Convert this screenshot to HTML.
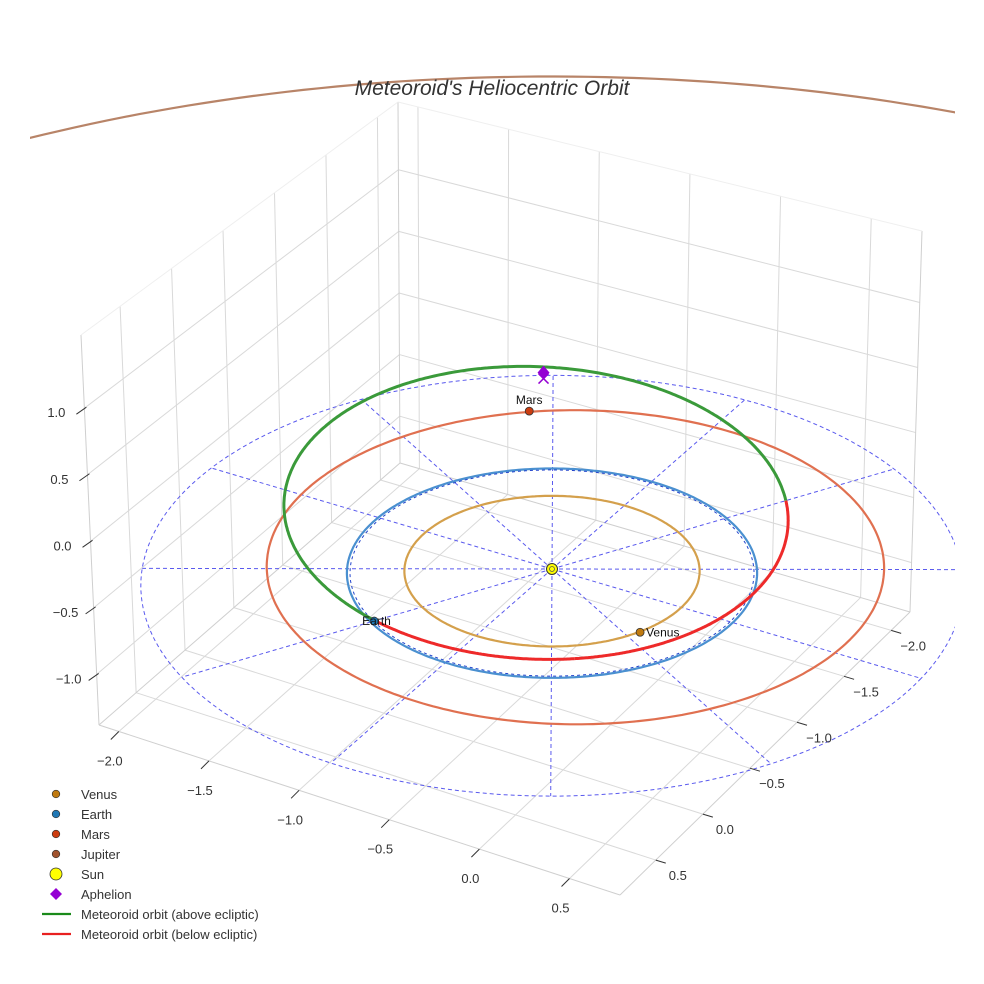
<!DOCTYPE html>
<html><head><meta charset="utf-8">
<style>
html,body{margin:0;padding:0;background:#fff;width:984px;height:984px;overflow:hidden;}
svg{display:block;font-family:"Liberation Sans",sans-serif;}
</style></head>
<body>
<svg id="chart" width="984" height="984" viewBox="0 0 984 984" xmlns="http://www.w3.org/2000/svg">
<defs><clipPath id="sceneclip"><rect x="30" y="0" width="925" height="984"/></clipPath></defs>
<rect x="0" y="0" width="984" height="984" fill="#fff"/>
<g id="box"></g>
<g id="data" clip-path="url(#sceneclip)"></g>
<g id="ticks"></g>
<text x="492" y="95" text-anchor="middle" font-size="21" font-style="italic" fill="#333">Meteoroid's Heliocentric Orbit</text>
<g id="legend"></g>
</svg>
<script>
// ---- data ----
const xTicks = [-2.0, -1.5, -1.0, -0.5, 0.0, 0.5];
const yTicks = [-2.0, -1.5, -1.0, -0.5, 0.0, 0.5];
const zTicks = [-1.0, -0.5, 0.0, 0.5, 1.0];
const xTickLabels = ["\u22122.0","\u22121.5","\u22121.0","\u22120.5","0.0","0.5"];
const yTickLabels = ["\u22122.0","\u22121.5","\u22121.0","\u22120.5","0.0","0.5"];
const zTickLabels = ["\u22121.0","\u22120.5","0.0","0.5","1.0"];
const axisRangeX = [-2.11, 0.78];
const axisRangeY = [-2.2, 0.88];
const axisRangeZ = [-1.38, 1.55];
const planetNames = ["Venus","Earth","Mars","Jupiter"];
const orbitRadii = [0.72, 1.0, 1.51, 5.8];
const orbitCenterX = [0, 0, 0.045, 0];
const orbitCenterY = [0, 0, -0.15, 0];
const planetX = [0.66, -0.49, -0.91];
const planetY = [0.30, 0.85, -1.33];
const referenceRadius = [2.0];
const spokeAnglesDeg = [0,30,60,90,120,150,180,210,240,270,300,330];
// meteoroid orbital elements
const meteoroidA = [1.39];
const meteoroidE = [0.43];
const meteoroidIncDeg = [3];
const meteoroidNodeDeg = [120];
const meteoroidPeriDeg = [52];   // longitude of perihelion
const aphelionPoint = [-1.04, -1.70, 0.03];

const NS = "http://www.w3.org/2000/svg";
function mk(tag, attrs, parent){const e=document.createElementNS(NS,tag);for(const k in attrs)e.setAttribute(k,attrs[k]);parent.appendChild(e);return e;}

// ---- projection for data ----
const CX=552, CY=569, S=206, EL=0.51, SZ=125, K=0.04;
function proj(X,Y,Z){
  const a=0.86*X-0.5*Y, w=0.5*X+0.86*Y;
  const f=1/(1-K*w);
  return [CX+f*S*a, CY+f*(S*EL*w - SZ*Z)];
}
function pathFrom(pts){return pts.map((p,i)=>(i?'L':'M')+p[0].toFixed(1)+' '+p[1].toFixed(1)).join(' ');}

// ---- box ----
const box=document.getElementById('box');
const Lc=[99,725],Fc=[620,895],Rc=[910,612],Bc=[400,463];
const LT=[81,335],BT=[398,102],RT=[922,231];
function lerp(p,q,t){return [p[0]+(q[0]-p[0])*t,p[1]+(q[1]-p[1])*t];}
function floorPt(x,y){
  const u=(x-axisRangeX[0])/(axisRangeX[1]-axisRangeX[0]);
  const v=(axisRangeY[1]-y)/(axisRangeY[1]-axisRangeY[0]);
  return lerp(lerp(Lc,Fc,u),lerp(Bc,Rc,u),v);
}
function zt(z){return (z-axisRangeZ[0])/(axisRangeZ[1]-axisRangeZ[0]);}
function line(p,q,stroke,w,parent,name){
  const e=mk('line',{x1:p[0],y1:p[1],x2:q[0],y2:q[1],stroke:stroke,'stroke-width':w},parent);
  
  
  return e;
}
const GC="#d9d9d9";
xTicks.forEach(x=>{line(floorPt(x,axisRangeY[1]),floorPt(x,axisRangeY[0]),GC,1,box,'floor-grid-x');});
yTicks.forEach(y=>{line(floorPt(axisRangeX[0],y),floorPt(axisRangeX[1],y),GC,1,box,'floor-grid-y');});
yTicks.forEach(y=>{const v=(axisRangeY[1]-y)/(axisRangeY[1]-axisRangeY[0]);line(lerp(Lc,Bc,v),lerp(LT,BT,v),GC,1,box,'left-wall-grid-y');});
zTicks.forEach(z=>{const t=zt(z);line(lerp(Lc,LT,t),lerp(Bc,BT,t),GC,1,box,'left-wall-grid-z');});
xTicks.forEach(x=>{const u=(x-axisRangeX[0])/(axisRangeX[1]-axisRangeX[0]);line(lerp(Bc,Rc,u),lerp(BT,RT,u),GC,1,box,'right-wall-grid-x');});
zTicks.forEach(z=>{const t=zt(z);line(lerp(Bc,BT,t),lerp(Rc,RT,t),GC,1,box,'right-wall-grid-z');});
const EC="#cfcfcf";
[[Lc,Fc],[Fc,Rc],[Lc,Bc],[Bc,Rc],[Lc,LT],[Bc,BT],[Rc,RT]].forEach(p=>line(p[0],p[1],EC,1,box,'box-edge'));
[[LT,BT],[BT,RT]].forEach(p=>line(p[0],p[1],"#efefef",1,box,'box-top-edge'));

// ---- ticks ----
const tk=document.getElementById('ticks');
function label(x,y,txt,name,anchor){
  const t=mk('text',{x:x,y:y,'font-size':13,fill:'#333','text-anchor':anchor||'middle'},tk);
  t.textContent=txt;
  
  
}
xTicks.forEach((x,i)=>{const p=floorPt(x,axisRangeY[1]);line(p,[p[0]-8,p[1]+8],'#333',1,tk,'x-tick');label(p[0]-9,p[1]+34,xTickLabels[i],'x-tick-label');});
yTicks.forEach((y,i)=>{const p=floorPt(axisRangeX[1],y);line(p,[p[0]+10,p[1]+3],'#333',1,tk,'y-tick');label(p[0]+22,p[1]+20,yTickLabels[i],'y-tick-label');});
zTicks.forEach((z,i)=>{const p=lerp(Lc,LT,zt(z));line([p[0]-8,p[1]+6],[p[0]+2,p[1]-1],'#333',1,tk,'z-tick');label(p[0]-28,p[1]+9,zTickLabels[i],'z-tick-label');});

// ---- data ----
const dg=document.getElementById('data');
function circlePts(r,cx,cy){const pts=[];for(let k=0;k<=360;k++){const a=k*Math.PI/180;pts.push(proj((cx||0)+r*Math.cos(a),(cy||0)+r*Math.sin(a),0));}return pts;}
function addPath(d,attrs,name){
  const e=mk('path',Object.assign({d:d,fill:'none'},attrs),dg);
  
  
  return e;
}
addPath(pathFrom(circlePts(referenceRadius[0])),{stroke:'#5a5aee','stroke-width':1,'stroke-dasharray':'4 3'},'reference-circle');
spokeAnglesDeg.forEach(a=>{const r=a*Math.PI/180;const R=referenceRadius[0];addPath(pathFrom([proj(0,0,0),proj(R*Math.cos(r),R*Math.sin(r),0)]),{stroke:'#5a5aee','stroke-width':1,'stroke-dasharray':'4 3'},'reference-spoke');});
const orbitColors=['#d4a04c','#4a90d0','#e07050','#b88468'];
const orbitNames=['venus-orbit','earth-orbit','mars-orbit','jupiter-orbit'];
orbitRadii.forEach((r,i)=>{addPath(pathFrom(circlePts(r,orbitCenterX[i],orbitCenterY[i])),{stroke:orbitColors[i],'stroke-width':2.2},orbitNames[i]);});
addPath(pathFrom(circlePts(0.985)),{stroke:'#2244cc','stroke-width':1,'stroke-dasharray':'3 3'},'earth-orbit-reference');
(function(){
  const a=meteoroidA[0],e=meteoroidE[0],inc=meteoroidIncDeg[0]*Math.PI/180,node=meteoroidNodeDeg[0]*Math.PI/180,peri=meteoroidPeriDeg[0]*Math.PI/180;
  const p=a*(1-e*e);
  let seg=[],segs=[],cur=null;
  for(let k=0;k<=720;k++){
    const nu=k*Math.PI/360;
    const r=p/(1+e*Math.cos(nu));
    const ang=peri+nu;
    const z=r*Math.sin(ang-node)*Math.sin(inc);
    const pt=proj(r*Math.cos(ang),r*Math.sin(ang),z);
    const above=z>=0;
    if(cur===null)cur=above;
    if(above!==cur){seg.push(pt);segs.push([cur,seg]);seg=[pt];cur=above;}
    else seg.push(pt);
  }
  segs.push([cur,seg]);
  segs.forEach(s=>{addPath(pathFrom(s[1]),{stroke:s[0]?'#3a9a3a':'#ee2a2a','stroke-width':3},s[0]?'meteoroid-orbit-above':'meteoroid-orbit-below');});
})();
const planetColors=['#c07a10','#1f77b4','#cc3d10'];
for(let i=0;i<planetX.length;i++){
  const q=proj(planetX[i],planetY[i],0);
  const c=mk('circle',{cx:q[0],cy:q[1],r:4,fill:planetColors[i],stroke:'#333','stroke-width':0.8},dg);
  
  
  const t=mk('text',{'font-size':12,fill:'#111'},dg);
  t.textContent=planetNames[i];
  if(i===2){t.setAttribute('x',q[0]);t.setAttribute('y',q[1]-7);t.setAttribute('text-anchor','middle');}
  else if(i===1){t.setAttribute('x',q[0]-12);t.setAttribute('y',q[1]+4);}
  else{t.setAttribute('x',q[0]+6);t.setAttribute('y',q[1]+4);}
  
  
}
(function(){const q=proj(0,0,0);
  const s=mk('circle',{cx:q[0],cy:q[1],r:5.5,fill:'#ffff00',stroke:'#333','stroke-width':1},dg);
  
  
  const s2=mk('circle',{cx:q[0],cy:q[1],r:2.5,fill:'none',stroke:'#555','stroke-width':0.8},dg);
  
  
})();
(function(){const q=proj(aphelionPoint[0],aphelionPoint[1],aphelionPoint[2]);
  const x=mk('path',{d:`M${q[0]-5} ${q[1]+1} L${q[0]+5} ${q[1]+11} M${q[0]+5} ${q[1]+1} L${q[0]-5} ${q[1]+11}`,stroke:'#9400d3','stroke-width':1.5,fill:'none'},dg);
  
  
  const d=mk('path',{d:`M${q[0]} ${q[1]-7} L${q[0]+6} ${q[1]} L${q[0]} ${q[1]+7} L${q[0]-6} ${q[1]} Z`,fill:'#9400d3'},dg);
  
  
})();

const lg=document.getElementById('legend');
const legendLabels=['Venus','Earth','Mars','Jupiter','Sun','Aphelion','Meteoroid orbit (above ecliptic)','Meteoroid orbit (below ecliptic)'];
const legendColors=['#c07a10','#1f77b4','#cc3d10','#a0522d','#ffff00','#9400d3','#1a8a1a','#e82020'];
legendLabels.forEach((lab,i)=>{
  const y=794+i*20;
  const g=mk('g',{},lg);
  
  
  if(i<4){mk('circle',{cx:56,cy:y,r:3.8,fill:legendColors[i],stroke:'#333','stroke-width':0.7},g);}
  else if(i===4){mk('circle',{cx:56,cy:y,r:6,fill:legendColors[i],stroke:'#333','stroke-width':0.8},g);}
  else if(i===5){mk('path',{d:`M56 ${y-6} L62 ${y} L56 ${y+6} L50 ${y} Z`,fill:legendColors[i]},g);}
  else{mk('line',{x1:42,y1:y,x2:71,y2:y,stroke:legendColors[i],'stroke-width':2.2},g);}
  const t=mk('text',{x:81,y:y+5,'font-size':13,fill:'#333'},g);
  t.textContent=lab;
});
</script>
</body></html>
